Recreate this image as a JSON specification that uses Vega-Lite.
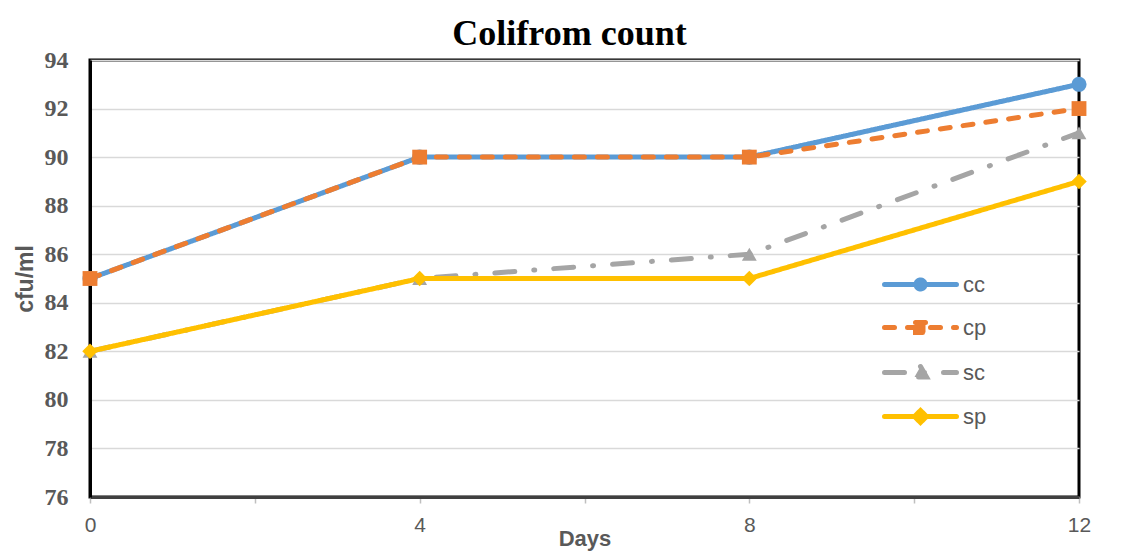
{
  "$schema": "https://vega.github.io/schema/vega-lite/v6.json",
  "width": 989,
  "height": 437,
  "autosize": "none",
  "padding": {"left": 90, "top": 60, "right": 44, "bottom": 55},
  "background": "white",
  "title": {
    "text": "Colifrom count",
    "font": "Liberation Serif",
    "fontSize": 36,
    "fontWeight": "bold",
    "color": "#000000",
    "anchor": "middle",
    "dx": -15,
    "offset": -5
  },
  "config": {
    "view": {"stroke": "#000000", "strokeWidth": 3},
    "axis": {"zindex": 1}
  },
  "data": {
    "values": [
      {"day": 0, "value": 85, "series": "cc"},
      {"day": 4, "value": 90, "series": "cc"},
      {"day": 8, "value": 90, "series": "cc"},
      {"day": 12, "value": 93, "series": "cc"},
      {"day": 0, "value": 85, "series": "cp"},
      {"day": 4, "value": 90, "series": "cp"},
      {"day": 8, "value": 90, "series": "cp"},
      {"day": 12, "value": 92, "series": "cp"},
      {"day": 0, "value": 82, "series": "sc"},
      {"day": 4, "value": 85, "series": "sc"},
      {"day": 8, "value": 86, "series": "sc"},
      {"day": 12, "value": 91, "series": "sc"},
      {"day": 0, "value": 82, "series": "sp"},
      {"day": 4, "value": 85, "series": "sp"},
      {"day": 8, "value": 85, "series": "sp"},
      {"day": 12, "value": 89, "series": "sp"}
    ]
  },
  "encoding": {
    "x": {
      "field": "day",
      "type": "quantitative",
      "scale": {"domain": [0, 12], "nice": false, "zero": false},
      "axis": {
        "title": "Days",
        "values": [0, 2, 4, 6, 8, 10, 12],
        "labelExpr": "datum.value % 4 === 0 ? datum.label : ''",
        "labelFlush": false,
        "grid": false,
        "domainColor": "#404040",
        "domainWidth": 3,
        "tickColor": "#bfbfbf",
        "tickSize": 6,
        "tickWidth": 1.5,
        "labelFont": "Liberation Sans",
        "labelFontSize": 21,
        "labelColor": "#595959",
        "labelPadding": 11,
        "titleFont": "Liberation Sans",
        "titleFontSize": 22,
        "titleFontWeight": "bold",
        "titleColor": "#595959",
        "titleY": 41,
        "titleBaseline": "middle"
      }
    },
    "y": {
      "field": "value",
      "type": "quantitative",
      "scale": {"domain": [76, 94], "nice": false, "zero": false},
      "axis": {
        "title": "cfu/ml",
        "values": [76, 78, 80, 82, 84, 86, 88, 90, 92, 94],
        "ticks": false,
        "grid": true,
        "gridColor": "#d9d9d9",
        "gridWidth": 1.5,
        "domainColor": "#000000",
        "domainWidth": 3,
        "labelFont": "Liberation Serif",
        "labelFontSize": 24,
        "labelFontWeight": "bold",
        "labelColor": "#595959",
        "labelPadding": 22,
        "titleFont": "Liberation Sans",
        "titleFontSize": 23,
        "titleFontWeight": "bold",
        "titleColor": "#595959",
        "titlePadding": 7
      }
    }
  },
  "layer": [
    {
      "mark": {"type": "line", "strokeWidth": 5, "strokeCap": "round"},
      "encoding": {
        "color": {
          "field": "series",
          "type": "nominal",
          "scale": {"domain": ["cc", "cp", "sc", "sp"], "range": ["#5B9BD5", "#ED7D31", "#A5A5A5", "#FFC000"]},
          "legend": {
            "title": null,
            "orient": "none",
            "legendX": 818,
            "legendY": 212,
            "symbolSize": 400,
            "labelOffset": 30,
            "rowPadding": 13,
            "labelFont": "Liberation Sans",
            "labelFontSize": 22,
            "labelColor": "#595959",
            "encode": {
              "symbols": {
                "update": {
                  "shape": {"signal": "datum.value === 'cc' ? 'M-3.6,0H3.6M0.45,0A0.45,0.45,0,1,1,-0.45,0A0.45,0.45,0,1,1,0.45,0Z' : datum.value === 'cp' ? 'M-3.6,0H3.6M-0.5,-0.5H0.5V0.5H-0.5Z' : datum.value === 'sc' ? 'M-3.6,0H3.6M0,-0.6L0.6,0.45H-0.6Z' : 'M-3.6,0H3.6M0,-0.6L0.6,0L0,0.6L-0.6,0Z'"},
                  "fill": {"scale": "color", "field": "value"},
                  "stroke": {"scale": "color", "field": "value"},
                  "strokeWidth": {"value": 5},
                  "strokeCap": {"value": "round"},
                  "strokeDash": {"signal": "datum.value === 'cp' ? [10, 13] : datum.value === 'sc' ? [20, 19, 1, 19] : [1, 0]"},
                  "opacity": {"value": 1}
                }
              }
            }
          }
        },
        "strokeDash": {
          "field": "series",
          "type": "nominal",
          "scale": {"domain": ["cc", "cp", "sc", "sp"], "range": [[1, 0], [10, 13], [20, 19, 1, 19], [1, 0]]},
          "legend": null
        }
      }
    },
    {
      "transform": [{"filter": "datum.series === 'cc'"}],
      "mark": {"type": "point", "filled": true, "size": 230, "opacity": 1, "shape": "circle", "color": "#5B9BD5"}
    },
    {
      "transform": [{"filter": "datum.series === 'cp'"}],
      "mark": {"type": "point", "filled": true, "size": 220, "opacity": 1, "shape": "square", "color": "#ED7D31"}
    },
    {
      "transform": [{"filter": "datum.series === 'sc'"}],
      "mark": {"type": "point", "filled": true, "size": 220, "opacity": 1, "shape": "triangle-up", "color": "#A5A5A5"}
    },
    {
      "transform": [{"filter": "datum.series === 'sp'"}],
      "mark": {"type": "point", "filled": true, "size": 240, "opacity": 1, "shape": "diamond", "color": "#FFC000"}
    }
  ]
}
